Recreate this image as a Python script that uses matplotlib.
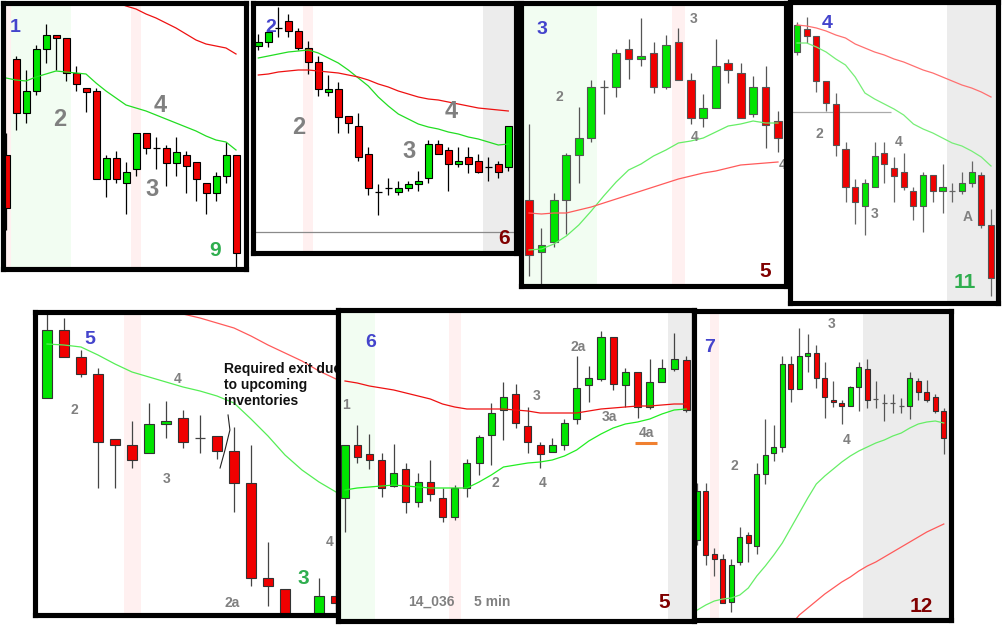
import matplotlib
matplotlib.use("Agg")
import matplotlib.pyplot as plt
import numpy as np

nan = np.nan

# candle levels (the level axis grows downward)
# ---- chart 1 ----
p1_open = [155, 59, 113, 91, 49, 35, 38, 73, 88, 91, 179, 158, 183, 169, 133, 148, 148, 163, 155, 162, 183, 193, 176, 155]
p1_high = [133, 56, 70, 45, 24, 35, 38, 66, 88, 88, 155, 151, 162, 133, 133, 137, 145, 137, 151, 162, 183, 172, 142, 155]
p1_low = [230, 130, 123, 95, 63, 70, 81, 91, 112, 179, 197, 183, 214, 176, 154, 169, 186, 176, 193, 201, 214, 201, 183, 268]
p1_close = [208, 113, 91, 49, 35, 38, 73, 84, 92, 179, 158, 179, 172, 133, 148, 148, 163, 152, 166, 179, 193, 176, 155, 253]
p1_fast = [78, 80, 81, 77, 74, 71, 72, 73, 74, 83, 91, 98, 105, 108, 111, 115, 119, 123, 127, 131, 136, 140, 142, 150]
p1_slow = [nan] * 10 + [-3, 2, 6, 9, 14, 18, 23, 28, 34, 40, 44, 46, 48, 54]

# ---- chart 2 ----
p2_open = [46, 42, 28, 21, 31, 48, 62, 92, 89, 116, 126, 154, 192, 188, 192, 188, 184, 178, 144, 150, 164, 157, 161, 167, 164, 167]
p2_high = [34, 30, 7, 14, 28, 41, 56, 75, 82, 116, 113, 147, 184, 178, 181, 181, 171, 140, 140, 147, 147, 147, 154, 157, 161, 126]
p2_low = [50, 47, 37, 37, 50, 74, 96, 96, 133, 133, 161, 195, 215, 195, 195, 191, 191, 183, 154, 191, 167, 173, 173, 181, 178, 171]
p2_close = [42, 32, 28, 31, 48, 62, 89, 89, 117, 123, 157, 188, 192, 188, 188, 184, 181, 144, 154, 164, 161, 164, 172, 167, 172, 126]
p2_fast = [58, 56, 54, 52, 51, 50, 53, 58, 63, 70, 78, 86, 97, 106, 114, 119, 124, 127, 129, 132, 134, 137, 139, 142, 145, 144]
p2_slow = [75, 74, 72, 71, 70, 70, 71, 72, 73, 75, 77, 80, 84, 87, 91, 94, 97, 99, 100, 102, 104, 106, 108, 109, 110, 111]

# ---- chart 3 ----
p3_open = [200, 252, 242, 200, 155, 138, 87, 87, 49, 59, 53, 87, 42, 80, 118, 108, 63, 73, 114, 87, 121]
p3_high = [124, 228, 193, 153, 107, 80, 80, 49, 39, 18, 42, 35, 28, 73, 94, 39, 59, 63, 76, 66, 111]
p3_low = [276, 285, 247, 234, 183, 142, 114, 97, 79, 66, 93, 89, 80, 124, 127, 108, 83, 118, 117, 148, 152]
p3_close = [255, 245, 200, 155, 138, 87, 87, 53, 59, 56, 87, 45, 80, 118, 108, 66, 70, 118, 87, 125, 138]
p3_fast = [250, 249, 244, 236, 225, 211, 196, 182, 170, 164, 156, 150, 143, 141, 138, 132, 126, 124, 121, 123, 123]
p3_slow = [213, 214, 213, 213, 210, 207, 203, 199, 195, 191, 187, 183, 179, 176, 173, 171, 168, 165, 164, 163, 162]

# ---- chart 4 ----
p4_open = [52, 29, 36, 81, 104, 149, 187, 206, 187, 153, 168, 172, 191, 206, 175, 191, 191, 191, 183, 175, 225]
p4_high = [22, 17, 36, 81, 93, 142, 179, 179, 142, 142, 157, 153, 187, 172, 175, 164, 183, 172, 161, 172, 209]
p4_low = [55, 43, 92, 111, 156, 202, 224, 235, 187, 183, 202, 190, 220, 232, 202, 213, 202, 194, 187, 228, 296]
p4_close = [25, 36, 81, 103, 145, 187, 202, 183, 156, 164, 176, 187, 206, 175, 191, 187, 191, 183, 172, 225, 278]
p4_fast = [43, 43, 47, 52, 59, 65, 77, 93, 99, 104, 109, 115, 124, 129, 133, 138, 143, 146, 151, 157, 166]
p4_slow = [25, 26, 28, 31, 35, 38, 44, 48, 52, 55, 59, 62, 66, 70, 73, 77, 81, 85, 88, 92, 97]

# ---- chart 5 ----
p5_open = [398, 330, 357, 374, 439, 445, 453, 424, 418, 438, 436, 451, 483, 578, 589, 625, 625, 596]
p5_high = [310, 318, 350, 368, 439, 421, 403, 401, 410, 415, 436, 427, 445, 542, 589, 620, 578, 590]
p5_low = [398, 357, 377, 488, 488, 468, 453, 438, 448, 453, 459, 512, 586, 606, 630, 650, 630, 610]
p5_close = [330, 357, 374, 442, 445, 460, 424, 421, 442, 438, 451, 483, 578, 586, 625, 645, 596, 603]
p5_fast = [344, 345, 347, 355, 364, 372, 377, 382, 387, 391, 396, 403, 419, 436, 455, 470, 482, 492]
p5_slow = [nan] * 7 + [310, 314, 318, 323, 328, 336, 345, 353, 361, 371, 379]

# ---- chart 6 ----
p6_open = [498, 445, 454, 460, 486, 469, 502, 482, 498, 517, 488, 463, 435, 410, 394, 426, 445, 452, 445, 419,
           385, 379, 337, 385, 372, 407, 382, 369, 360]
p6_high = [445, 425, 434, 453, 444, 463, 473, 460, 488, 485, 459, 435, 403, 382, 384, 407, 442, 438, 419, 356,
           366, 331, 337, 368, 372, 359, 359, 333, 356]
p6_low = [532, 463, 469, 497, 487, 513, 507, 501, 522, 520, 497, 475, 465, 440, 428, 453, 468, 452, 450, 424,
          402, 381, 390, 407, 418, 409, 382, 371, 412]
p6_close = [445, 457, 460, 488, 473, 502, 482, 494, 517, 488, 463, 437, 413, 397, 423, 442, 454, 445, 423, 388,
            378, 337, 384, 372, 407, 382, 368, 359, 410]
p6_fast = [490, 488, 487, 486, 485, 486, 487, 488, 488, 488, 488, 482, 475, 467, 465, 463, 462, 460, 456, 450,
           441, 434, 428, 424, 422, 419, 414, 410, 409]
p6_slow = [381, 383, 386, 388, 390, 393, 396, 399, 404, 407, 409, 409, 409, 409, 410, 411, 413, 413, 413, 413,
           411, 409, 408, 407, 406, 406, 405, 404, 404]

# ---- chart 7 ----
p7_open = [540, 491, 554, 559, 602, 562, 535, 546, 474, 453, 447, 364, 389, 356, 353, 378, 400, 403, 406, 387,
           369, 399, 403, 403, 406, 406, 381, 392, 397, 411]
p7_high = [483, 483, 548, 554, 559, 527, 532, 463, 419, 425, 356, 356, 328, 334, 345, 362, 381, 400, 386, 362,
           359, 381, 394, 394, 398, 372, 378, 380, 394, 408]
p7_low = [545, 565, 576, 603, 612, 565, 562, 554, 484, 461, 452, 402, 389, 372, 388, 418, 407, 424, 406, 411,
          408, 408, 421, 413, 413, 419, 400, 402, 413, 454]
p7_close = [491, 555, 559, 603, 565, 537, 543, 474, 455, 447, 364, 389, 356, 353, 378, 397, 402, 406, 387, 367,
            400, 399, 403, 403, 406, 378, 392, 400, 411, 438]
p7_fast = [610, 605, 601, 599, 598, 595, 588, 576, 566, 555, 543, 528, 513, 498, 484, 476, 469, 462, 456, 451,
           447, 443, 440, 436, 433, 428, 424, 422, 421, 423]
p7_slow = [nan] * 11 + [625, 615, 608, 601, 594, 588, 582, 577, 571, 566, 562, 557, 552, 547, 542, 537, 532, 528, 524]

plt.rcParams['font.family'] = ['Liberation Sans', 'DejaVu Sans']

W, H = 1006, 642
fig = plt.figure(figsize=(W / 100, H / 100), dpi=100)
fig.patch.set_facecolor('white')

GREEN = '#00e400'
RED = '#f00000'
SHADE = {'g': '#f2fdf2', 'p': '#fff0f0', 'k': '#ececec'}
TXT = {
    'id': dict(color='#4444cc', fontsize=14, fontweight='bold'),
    'big': dict(color='#808080', fontsize=17, fontweight='bold'),
    'small': dict(color='#808080', fontsize=10, fontweight='bold'),
    'end': dict(color='#800000', fontsize=15, fontweight='bold'),
    'endg': dict(color='#2fae4f', fontsize=15, fontweight='bold'),
}


def draw_panel(frame, first, step, o, h, l, c, fast, slow, body=0.65, edge='black', wick='black',
               fast_col='#22dd22', slow_col='#ee1111', shades=(), labels=()):
    L, T, R, B = frame
    ax = fig.add_axes([L / W, 1 - B / H, (R - L) / W, (B - T) / H])
    ax.set_xlim((L - first) / step, (R - first) / step)
    ax.set_ylim(B, T)
    ax.set_xticks([])
    ax.set_yticks([])
    for s in ax.spines.values():
        s.set_linewidth(3.7)
        s.set_color('black')
        s.set_zorder(10)
    for a, b, k in shades:
        ax.axvspan(a - 0.5, b + 0.5, color=SHADE[k], lw=0, zorder=0)
    o, h, l, c = (np.asarray(v, dtype=float) for v in (o, h, l, c))
    x = np.arange(len(o))
    ax.vlines(x, h, l, color=wick, lw=0.9, zorder=2)
    up = c < o
    dn = c > o
    fl = c == o
    ax.bar(x[up], (o - c)[up], bottom=c[up], width=body, color=GREEN, edgecolor=edge, lw=0.8, zorder=3)
    ax.bar(x[dn], (c - o)[dn], bottom=o[dn], width=body, color=RED, edgecolor=edge, lw=0.8, zorder=3)
    ax.hlines(o[fl], x[fl] - body / 2, x[fl] + body / 2, color=wick, lw=0.9, zorder=3)
    ax.plot(x, fast, color=fast_col, lw=0.9, zorder=4)
    ax.plot(x, slow, color=slow_col, lw=0.9, zorder=4)
    for s, tx, ty, kind in labels:
        ax.text(tx, ty, s, ha='center', va='center', zorder=6, clip_on=True, **TXT[kind])
    return ax


ax1 = draw_panel((3, 2.5, 245.5, 268.5), 6, 10, p1_open, p1_high, p1_low, p1_close, p1_fast, p1_slow,
                 body=0.7, shades=[(1, 6, 'g'), (0, 0, 'p'), (13, 13, 'p')],
                 labels=[('1', 0.9, 28, 'id'), ('2', 5.4, 120, 'big'), ('4', 15.4, 105, 'big'),
                         ('3', 14.6, 190, 'big'), ('9', 20.9, 251, 'endg')])

ax2 = draw_panel((253, 2.5, 515.5, 252.5), 258.3, 10, p2_open, p2_high, p2_low, p2_close, p2_fast, p2_slow,
                 body=0.68, shades=[(5, 5, 'p'), (23, 25.3, 'k')],
                 labels=[('2', 1.2, 27, 'id'), ('2', 4.0, 128, 'big'), ('3', 15.1, 152, 'big'),
                         ('4', 19.3, 111, 'big'), ('6', 24.6, 239, 'end')])
ax2.axhline(232, color='#8a8a8a', lw=0.9, zorder=1)

ax3 = draw_panel((521, 3, 786, 286), 529, 12.45, p3_open, p3_high, p3_low, p3_close, p3_fast, p3_slow,
                 body=0.62, edge='#555555', wick='#555555', fast_col='#66ee66', slow_col='#ff5a5a',
                 shades=[(0, 5, 'g'), (12, 12, 'p')],
                 labels=[('3', 1.04, 30, 'id'), ('2', 2.4, 97, 'small'), ('3', 13.2, 19, 'small'),
                         ('4', 13.3, 137, 'small'), ('4', 20.4, 165, 'small'), ('5', 19.0, 272, 'end')])

ax4 = draw_panel((790, 2, 998, 302.5), 797, 9.7, p4_open, p4_high, p4_low, p4_close, p4_fast, p4_slow,
                 body=0.62, edge='#555555', wick='#666666', fast_col='#77ee77', slow_col='#ff7070',
                 shades=[(16, 21, 'k')],
                 labels=[('4', 3.1, 24, 'id'), ('2', 2.3, 134, 'small'), ('4', 10.5, 142, 'small'),
                         ('3', 8.0, 214, 'small'), ('A', 17.6, 217, 'small'), ('11', 17.3, 283, 'endg')])
ax4.hlines(112, -1, 9.7, color='#aaaaaa', lw=0.9, zorder=1)

ax5 = draw_panel((35, 312.5, 338, 615), 47, 17.0, p5_open, p5_high, p5_low, p5_close, p5_fast, p5_slow,
                 body=0.6, edge='#333333', wick='#444444', fast_col='#55ee55', slow_col='#ff5a5a',
                 shades=[(5, 5, 'p')],
                 labels=[('5', 2.53, 340, 'id'), ('2', 1.59, 410, 'small'), ('4', 7.7, 379, 'small'),
                         ('3', 7.06, 479, 'small'), ('2a', 10.9, 603, 'small'), ('3', 15.1, 579, 'endg'),
                         ('4', 16.6, 542, 'small')])
ax5.text(10.41, 362, 'Required exit due\nto upcoming\ninventories', ha='left', va='top', fontsize=10,
         fontweight='bold', color='#111111', linespacing=1.2, zorder=6, clip_on=True)
ax5.plot([10.65, 10.76, 10.47, 10.18], [415, 430, 450, 468], color='#222222', lw=0.8, zorder=6)

ax6 = draw_panel((337.5, 310, 693.5, 620.5), 345, 12.19, p6_open, p6_high, p6_low, p6_close, p6_fast, p6_slow,
                 body=0.58, edge='#333333', wick='#444444', fast_col='#22ee22', slow_col='#ee1111',
                 shades=[(0, 2, 'g'), (9, 9, 'p'), (27, 28.5, 'k')],
                 labels=[('6', 2.13, 343, 'id'), ('1', 0.08, 405, 'small'), ('2a', 19.1, 347, 'small'),
                         ('3', 15.75, 396, 'small'), ('3a', 21.7, 417, 'small'), ('4a', 24.7, 433, 'small'),
                         ('2', 12.3, 483, 'small'), ('4', 16.2, 483, 'small'), ('14_036', 7.05, 602, 'small'),
                         ('5 min', 12.06, 602, 'small'), ('5', 26.2, 603, 'end')])
ax6.hlines(443, 23.8, 25.6, color='#f08030', lw=2.2, zorder=6)

ax7 = draw_panel((694, 311, 950.5, 619.5), 697.3, 8.5, p7_open, p7_high, p7_low, p7_close, p7_fast, p7_slow,
                 body=0.6, edge='#333333', wick='#555555', fast_col='#66ee66', slow_col='#ff5a5a',
                 shades=[(2, 2, 'p'), (20, 30, 'k')],
                 labels=[('7', 1.5, 347, 'id'), ('2', 4.3, 466, 'small'), ('3', 15.8, 324, 'small'),
                         ('4', 17.6, 440, 'small'), ('12', 26.4, 607, 'end')])

fig.savefig('out.png', dpi=100, facecolor='white')
